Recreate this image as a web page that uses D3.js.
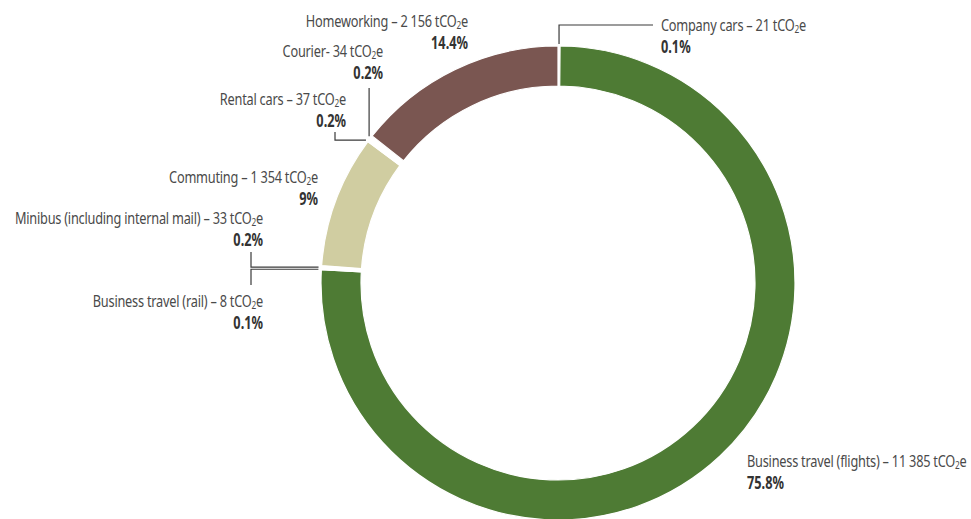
<!DOCTYPE html>
<html>
<head>
<meta charset="utf-8">
<script src="https://cdn.jsdelivr.net/npm/d3@7"></script>
<style>
  body { margin: 0; background: #fff; }
  text { font-family: "Noto Sans", "Open Sans", sans-serif; }
</style>
</head>
<body>
<div id="donut"></div>
<script>
// data, clockwise from 12 o'clock
var categories = ["Company cars", "Business travel (flights)", "Business travel (rail)",
  "Minibus (including internal mail)", "Commuting", "Rental cars", "Courier", "Homeworking"];
var emissions = [21, 11385, 8, 33, 1354, 37, 34, 2156];
var valueLabels = ["21", "11 385", "8", "33", "1 354", "37", "34", "2 156"];
var shareLabels = ["0.1%", "75.8%", "0.1%", "0.2%", "9%", "0.2%", "0.2%", "14.4%"];
var separators = [" – ", " – ", " – ", " – ", " – ", " – ", "- ", " – "];

var colors = ["#ffffff", "#4e7b34", "#ffffff", "#ffffff", "#d0cda1", "#ffffff", "#ffffff", "#7a5651"];

// label layout: text anchor point and leader elbow
var labelLayout = [
  {x: 661, y: 31, anchor: "start", leader: "upRight", ly: 25, lx: 653},
  {x: 747, y: 467, anchor: "start", leader: null},
  {x: 263, y: 307, anchor: "end", leader: "leftDown", lx: 251, ly: 285},
  {x: 263, y: 224, anchor: "end", leader: "leftUp", lx: 251, ly: 252},
  {x: 318, y: 183, anchor: "end", leader: null},
  {x: 346, y: 105, anchor: "end", leader: "leftUp", lx: 335, ly: 132},
  {x: 383, y: 57, anchor: "end", leader: "up", ly: 88},
  {x: 468, y: 27, anchor: "end", leader: null}
];

var width = 971, height = 519;
var cx = 558, cy = 283, outerR = 237, innerR = 197;
var fontSize = 17, squeeze = 0.75;

var svg = d3.select("#donut").append("svg")
  .attr("width", width)
  .attr("height", height);

var data = categories.map(function(c, i) { return {name: c, value: emissions[i], i: i}; });

var pie = d3.pie().sort(null).value(function(d) { return d.value; });
var arc = d3.arc().innerRadius(innerR).outerRadius(outerR);

var g = svg.append("g").attr("transform", "translate(" + cx + "," + cy + ")");

var arcs = pie(data);

g.selectAll("path.slice")
  .data(arcs)
  .enter()
  .append("path")
  .attr("class", "slice")
  .attr("d", arc)
  .style("fill", function(d) { return colors[d.data.i]; })
  .style("stroke", "#fff")
  .style("stroke-width", 1.2);

// leader lines from the outer edge of the small slices
arcs.forEach(function(d) {
  var L = labelLayout[d.data.i];
  if (!L.leader) return;
  var a = (d.startAngle + d.endAngle) / 2;
  var px = cx + outerR * Math.sin(a), py = cy - outerR * Math.cos(a);
  var pts;
  if (L.leader === "upRight") pts = [[px, py - 2], [px, L.ly], [L.lx, L.ly]];
  else if (L.leader === "up") pts = [[px - 2, py - 1], [px - 2, L.ly]];
  else pts = [[px - 3, py], [L.lx, py], [L.lx, L.ly]];
  svg.append("path")
    .attr("d", d3.line()(pts))
    .style("fill", "none")
    .style("stroke", "#3a3a3a")
    .style("stroke-width", 1.2);
});

// labels (horizontally squeezed to mimic a condensed face)
data.forEach(function(d, i) {
  var L = labelLayout[i];
  var lg = svg.append("g")
    .attr("transform", "translate(" + L.x + "," + L.y + ") scale(" + squeeze + ",1)");
  var t = lg.append("text")
    .attr("x", 0)
    .attr("y", 0)
    .attr("text-anchor", L.anchor)
    .style("font-size", fontSize + "px")
    .style("letter-spacing", "-0.3px")
    .style("fill", "#4a4a4a");
  t.append("tspan").text(d.name + separators[i] + valueLabels[i] + " tCO");
  t.append("tspan").attr("dy", 2).style("font-size", "11px").text("2");
  t.append("tspan").attr("dy", -2).text("e");

  lg.append("text")
    .attr("x", 0)
    .attr("y", 22)
    .attr("text-anchor", L.anchor)
    .style("font-size", fontSize + "px")
    .style("font-weight", "bold")
    .style("fill", "#333")
    .text(shareLabels[i]);
});
</script>
</body>
</html>
